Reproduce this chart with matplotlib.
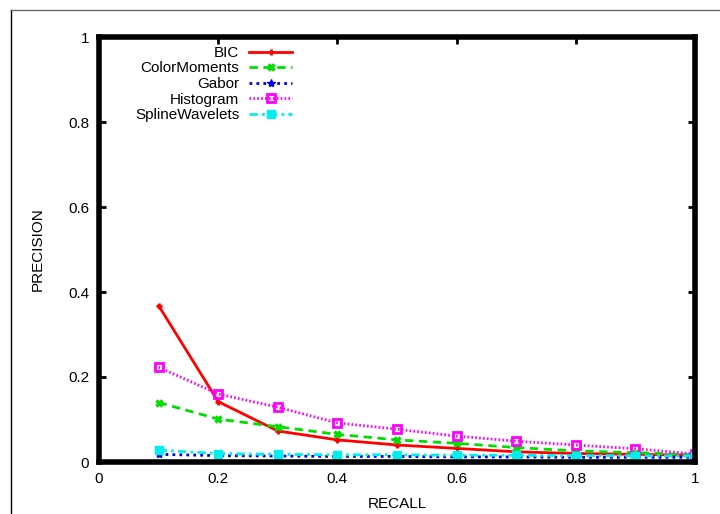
import matplotlib
matplotlib.use("Agg")
import matplotlib.pyplot as plt
from matplotlib.lines import Line2D

plt.rcParams['font.family'] = ['Liberation Sans', 'DejaVu Sans']

recall = [0.1, 0.2, 0.3, 0.4, 0.5, 0.6, 0.7, 0.8, 0.9, 1.0]
bic = [0.368, 0.142, 0.073, 0.052, 0.040, 0.032, 0.024, 0.020, 0.018, 0.016]
color_moments = [0.140, 0.101, 0.083, 0.065, 0.052, 0.044, 0.034, 0.026, 0.022, 0.017]
gabor = [0.018, 0.015, 0.014, 0.013, 0.013, 0.012, 0.012, 0.011, 0.011, 0.011]
histogram = [0.223, 0.160, 0.129, 0.092, 0.077, 0.061, 0.049, 0.040, 0.031, 0.019]
spline_wavelets = [0.028, 0.020, 0.018, 0.017, 0.017, 0.016, 0.016, 0.015, 0.015, 0.014]

ticks = [0, 0.2, 0.4, 0.6, 0.8, 1]
tick_labels = ['0', '0.2', '0.4', '0.6', '0.8', '1']

fs = 11

fig = plt.figure(figsize=(7.2, 5.14), dpi=100)
ax = fig.add_axes([99 / 720, 52 / 514, 596 / 720, 425 / 514])

ax.plot(recall, bic, color='#ff0000', linestyle='-', linewidth=2,
        marker='+', markersize=5, markeredgewidth=2, label='BIC')
ax.plot(recall, color_moments, color='#00dd00', linestyle=(0, (3, 2)), linewidth=2,
        marker='x', markersize=5, markeredgewidth=2.5, label='ColorMoments')
ax.plot(recall, gabor, color='#0000ee', linestyle=(0, (1, 1.5)), linewidth=2,
        marker='*', markersize=6, label='Gabor')
ax.plot(recall, histogram, color='#ff00ff', linestyle=(0, (0.6, 0.8)), linewidth=2,
        marker='s', markersize=5.5, markerfacecolor='none', markeredgewidth=2, label='Histogram')
ax.plot(recall, spline_wavelets, color='#00eeee', linestyle=(0, (3, 1.5, 1, 1.5)), linewidth=2,
        marker='s', markersize=5.5, label='SplineWavelets')

ax.set_xlim(0, 1)
ax.set_ylim(0, 1)
ax.set_xticks(ticks)
ax.set_xticklabels(tick_labels)
ax.set_yticks(ticks)
ax.set_yticklabels(tick_labels)
ax.tick_params(direction='in', length=5, width=2, top=True, right=True,
               labelsize=fs, pad=7)
for s in ax.spines.values():
    s.set_linewidth(4)

ax.set_xlabel('RECALL', fontsize=fs, labelpad=8)
ax.set_ylabel('PRECISION', fontsize=fs, labelpad=17)

leg = ax.legend(loc='upper right', bbox_to_anchor=(0.324, 0.979), frameon=False,
                markerfirst=False, alignment='right', fontsize=fs,
                handlelength=2.8, handletextpad=0.65, labelspacing=0.1,
                borderaxespad=0, borderpad=0)
for t in leg.get_texts():
    t.set_ha('right')

# thin outer frame from the original page
fig.add_artist(Line2D([11 / 720, 11 / 720], [0, 1 - 10 / 514], color='black', linewidth=1))
fig.add_artist(Line2D([11 / 720, 1], [1 - 10 / 514, 1 - 10 / 514], color='#666666', linewidth=1))

fig.savefig('out.png', dpi=100)
